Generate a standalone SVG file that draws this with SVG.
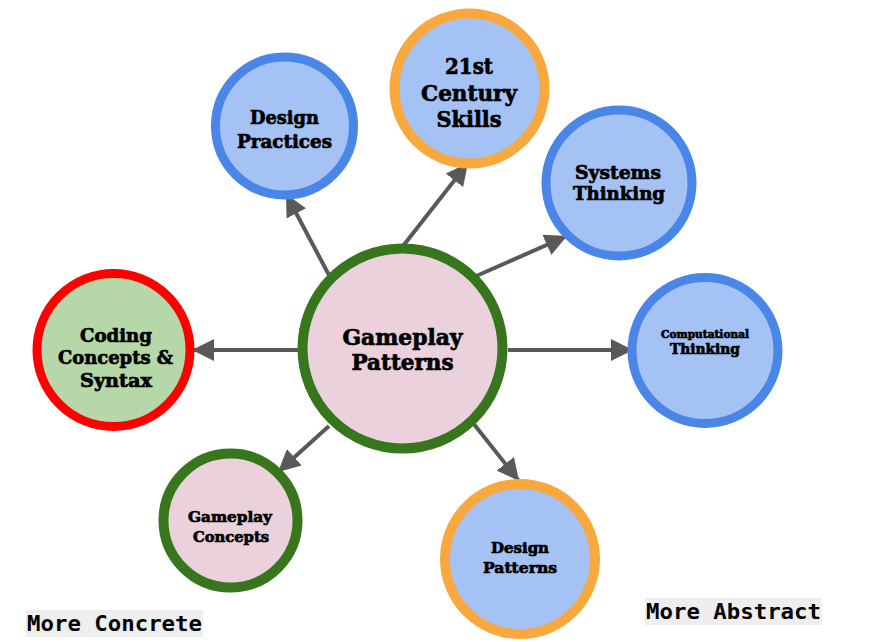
<svg xmlns="http://www.w3.org/2000/svg" width="870" height="642" viewBox="0 0 870 642">
<defs>
<style>
.lbl{font-family:"DejaVu Serif","Liberation Serif",serif;font-weight:bold;fill:#000;stroke:#000;stroke-width:0.7px;text-anchor:middle}
.mono{font-family:"DejaVu Sans Mono","Liberation Mono",monospace;font-weight:bold;font-size:22px;fill:#000}
.blue{fill:#a4c2f4;stroke:#4a86e8}
.orange{fill:#a4c2f4;stroke:#f9a83e}
.pink{fill:#ead1dc;stroke:#38761d}
.green{fill:#b6d7a8;stroke:#ff0000}
.conn{stroke:#595959;stroke-width:4;fill:none;marker-end:url(#ah)}
</style>
<marker id="ah" markerUnits="userSpaceOnUse" viewBox="0 0 22 22" refX="22" refY="11" markerWidth="22" markerHeight="22" orient="auto">
<path d="M0,0 L22,11 L0,22 Z" fill="#595959"/>
</marker>
</defs>
<rect width="870" height="642" fill="#ffffff"/>
<g id="connectors">
<line class="conn" x1="330" y1="277" x2="286" y2="194"/>
<line class="conn" x1="403" y1="246" x2="468" y2="163"/>
<line class="conn" x1="474" y1="277" x2="567" y2="236"/>
<line class="conn" x1="508" y1="350" x2="633" y2="350"/>
<line class="conn" x1="298" y1="350" x2="192" y2="350"/>
<line class="conn" x1="329" y1="426" x2="278" y2="472"/>
<line class="conn" x1="473" y1="423" x2="519" y2="481"/>
</g>
<g id="gameplay-patterns">
<circle class="pink" cx="402.5" cy="348.5" r="100" stroke-width="10"/>
<text class="lbl" font-size="22" x="402.5" y="345" textLength="120" lengthAdjust="spacingAndGlyphs">Gameplay</text>
<text class="lbl" font-size="22" x="402.5" y="370" textLength="102" lengthAdjust="spacingAndGlyphs">Patterns</text>
</g>
<g id="design-practices">
<circle class="blue" cx="284.5" cy="126" r="69" stroke-width="9"/>
<text class="lbl" font-size="19" x="284.5" y="124" textLength="69" lengthAdjust="spacingAndGlyphs">Design</text>
<text class="lbl" font-size="19" x="284.5" y="148" textLength="95" lengthAdjust="spacingAndGlyphs">Practices</text>
</g>
<g id="century-skills">
<circle class="orange" cx="469.5" cy="88.5" r="75" stroke-width="10"/>
<text class="lbl" font-size="23" x="469" y="74" textLength="48" lengthAdjust="spacingAndGlyphs">21st</text>
<text class="lbl" font-size="23" x="469" y="101" textLength="96" lengthAdjust="spacingAndGlyphs">Century</text>
<text class="lbl" font-size="23" x="469" y="127" textLength="65" lengthAdjust="spacingAndGlyphs">Skills</text>
</g>
<g id="systems-thinking">
<circle class="blue" cx="619" cy="183" r="73" stroke-width="9"/>
<text class="lbl" font-size="19" x="618" y="179" textLength="86" lengthAdjust="spacingAndGlyphs">Systems</text>
<text class="lbl" font-size="19" x="619" y="200" textLength="92" lengthAdjust="spacingAndGlyphs">Thinking</text>
</g>
<g id="computational-thinking">
<circle class="blue" cx="705" cy="350.5" r="73" stroke-width="9"/>
<text class="lbl" font-size="11" x="705" y="337.5" textLength="88" lengthAdjust="spacingAndGlyphs">Computational</text>
<text class="lbl" font-size="14" x="705" y="354" textLength="70" lengthAdjust="spacingAndGlyphs">Thinking</text>
</g>
<g id="coding-concepts">
<circle class="green" cx="113.5" cy="350" r="76.5" stroke-width="9"/>
<text class="lbl" font-size="19" x="116" y="342" textLength="72" lengthAdjust="spacingAndGlyphs">Coding</text>
<text class="lbl" font-size="19" x="115.5" y="364" textLength="115" lengthAdjust="spacingAndGlyphs">Concepts &amp;</text>
<text class="lbl" font-size="19" x="116" y="387" textLength="72" lengthAdjust="spacingAndGlyphs">Syntax</text>
</g>
<g id="gameplay-concepts">
<circle class="pink" cx="230.5" cy="520.5" r="67" stroke-width="10"/>
<text class="lbl" font-size="15" x="230" y="522" textLength="84" lengthAdjust="spacingAndGlyphs">Gameplay</text>
<text class="lbl" font-size="15" x="231" y="542" textLength="76" lengthAdjust="spacingAndGlyphs">Concepts</text>
</g>
<g id="design-patterns">
<circle class="orange" cx="520" cy="559" r="75" stroke-width="10"/>
<text class="lbl" font-size="15" x="520" y="553" textLength="58" lengthAdjust="spacingAndGlyphs">Design</text>
<text class="lbl" font-size="15" x="520" y="573" textLength="74" lengthAdjust="spacingAndGlyphs">Patterns</text>
</g>
<g id="more-concrete">
<rect x="26" y="610" width="177" height="27" fill="#eeeeee"/>
<text class="mono" x="27" y="631" textLength="175" lengthAdjust="spacingAndGlyphs">More Concrete</text>
</g>
<g id="more-abstract">
<rect x="645" y="598" width="177" height="27" fill="#eeeeee"/>
<text class="mono" x="646" y="619" textLength="175" lengthAdjust="spacingAndGlyphs">More Abstract</text>
</g>
</svg>
